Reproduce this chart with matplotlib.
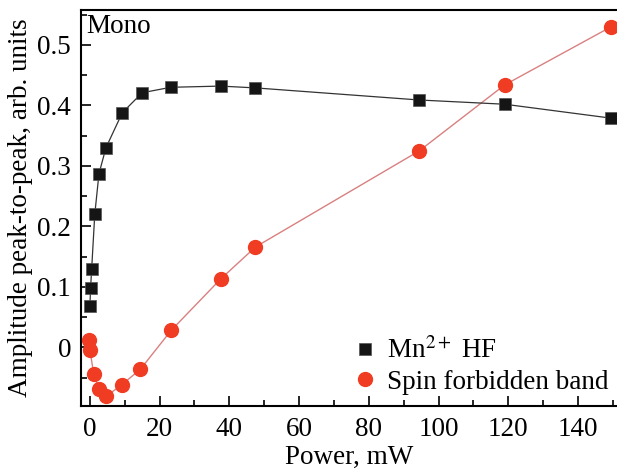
import numpy as np
import matplotlib.pyplot as plt
from matplotlib.ticker import MultipleLocator

plt.rcParams['font.family'] = ['Liberation Serif', 'DejaVu Serif']
plt.rcParams['mathtext.fontset'] = 'stix'

# Mn2+ HF signal
p_mn = [0.0, 0.2, 0.5, 1.4, 2.6, 4.6, 9.3, 15.0, 23.2, 37.5, 47.5, 94.5, 119.0, 149.5]
a_mn = [0.069, 0.098, 0.129, 0.220, 0.287, 0.330, 0.388, 0.421, 0.430, 0.432, 0.429, 0.409, 0.402, 0.379]

# spin forbidden band
p_sf = [-0.2, 0.0, 1.1, 2.6, 4.6, 9.1, 14.5, 23.3, 37.5, 47.5, 94.5, 119.0, 149.5]
a_sf = [0.013, -0.004, -0.044, -0.069, -0.081, -0.062, -0.036, 0.028, 0.113, 0.166, 0.325, 0.434, 0.530]

fs = 19.5
fig = plt.figure(figsize=(6.17, 4.70), dpi=100)
ax = fig.add_axes([0.131, 0.136, 0.869, 0.843])

ax.plot(p_sf, a_sf, '-', color='#d98080', lw=1.0, zorder=2, clip_on=False)
ax.plot(p_mn, a_mn, '-', color='#333333', lw=0.9, zorder=2, clip_on=False)
ax.plot(p_mn, a_mn, 's', ms=8.5, color='#151515', mec='#555555', mew=0.5,
        ls='none', label='Mn$^{2+}$ HF', zorder=3)
ax.plot(p_sf, a_sf, 'o', ms=10, color='#f03c22', mec='#f03c22', ls='none',
        label='Spin forbidden band', zorder=3)

ax.set_xlim(-2.6, 151.2)
ax.set_ylim(-0.097, 0.558)
ax.xaxis.set_major_locator(MultipleLocator(20))
ax.xaxis.set_minor_locator(MultipleLocator(10))
ax.yaxis.set_minor_locator(MultipleLocator(0.05))
ax.set_yticks([0, 0.1, 0.2, 0.3, 0.4, 0.5])
ax.set_yticklabels(['0', '0.1', '0.2', '0.3', '0.4', '0.5'])
ax.tick_params(which='both', direction='in', labelsize=fs, width=1.2)
ax.tick_params(which='major', length=7)
ax.tick_params(which='minor', length=4)
ax.tick_params(axis='y', pad=7)
ax.tick_params(axis='x', pad=8)
ax.spines['right'].set_visible(False)
for s in ax.spines.values():
    s.set_linewidth(1.5)

ax.set_xlabel('Power, mW', fontsize=fs, labelpad=2)
ax.set_ylabel('Amplitude peak-to-peak, arb. units', fontsize=fs, labelpad=3)
ax.text(0.01, 0.99, 'Mono', transform=ax.transAxes, fontsize=fs, va='top', ha='left')

ax.legend(loc='lower right', fontsize=fs, frameon=False, handletextpad=0.35,
          borderaxespad=0.2, labelspacing=0.2, handlelength=0.9,
          bbox_to_anchor=(1.014, -0.012))

fig.savefig('out.png', dpi=100)
